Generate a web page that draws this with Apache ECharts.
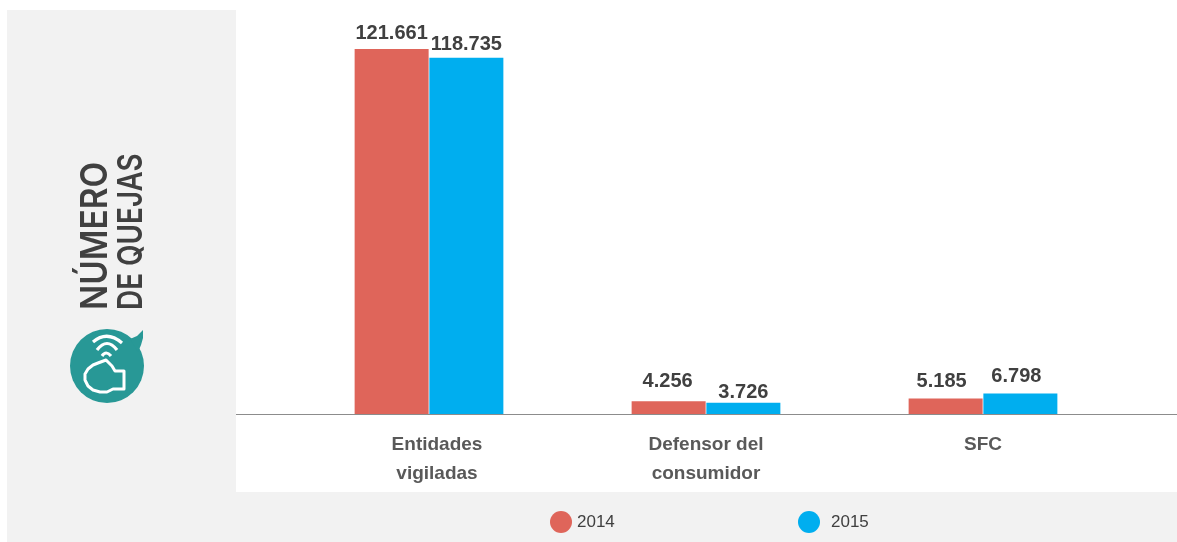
<!DOCTYPE html>
<html>
<head>
<meta charset="utf-8">
<style>html,body{margin:0;padding:0;background:#fff}#chart{width:1177px;height:542px}</style>
<script src="https://cdn.jsdelivr.net/npm/echarts@6/dist/echarts.min.js"></script>
</head>
<body>
<div id="chart"></div>
<script>
const categories = ['Entidades\nvigiladas', 'Defensor del\nconsumidor', 'SFC'];
const values2014 = [121661, 4256, 5185];
const values2015 = [118735, 3726, 6798];
const seriesNames = ['2014', '2015'];
const panelTitle = ['NÚMERO', 'DE QUEJAS'];

const RED = '#df655a';
const BLUE = '#00aeef';
const PANEL = '#f2f2f2';
const TEAL = '#289896';
const sans = '"Liberation Sans", Arial, sans-serif';

// Hand-placed value labels: [dx, dy] for each bar, per series
const labelNudge = [
  [[0, -2], [-1, -6], [-4, -3]],
  [[0, 1], [0, 4], [-4, -3]]
];

// Thousands use a dot, as in Spanish-language reports
const fmt = v => String(v).replace(/\B(?=(\d{3})+$)/g, '.');

const chart = echarts.init(document.getElementById('chart'), null, {renderer: 'canvas'});

// One signal arc of the bubble icon
const wave = (x1, y1, cx, cy, x2, y2) => ({
  type: 'bezierCurve', silent: true, z: 3,
  shape: {x1, y1, x2, y2, cpx1: cx, cpy1: cy},
  style: {fill: 'none', stroke: '#fff', lineWidth: 3.2, lineCap: 'butt'}
});

chart.setOption({
  animation: false,
  backgroundColor: '#fff',
  grid: {left: 290.5, width: 831, top: 24, height: 390},
  xAxis: {
    type: 'category',
    data: categories.map((name, i) => i === 0
      ? {value: name, textStyle: {padding: [0, 0, 0, 16]}}
      : name),
    axisTick: {show: false},
    axisLine: {show: false},
    axisLabel: {
      margin: 16, lineHeight: 29, color: '#595959',
      fontFamily: sans, fontWeight: 'bold', fontSize: 19
    }
  },
  yAxis: {type: 'value', min: 0, max: 130000, show: false},
  legend: [
    {
      data: ['2014'], left: 550, top: 511, padding: 0, icon: 'circle',
      itemWidth: 22, itemHeight: 22, itemGap: 6,
      textStyle: {color: '#404040', fontFamily: sans, fontSize: 17}
    },
    {
      data: ['2015'], left: 798, top: 511, padding: 0, icon: 'circle',
      itemWidth: 22, itemHeight: 22, itemGap: 5,
      textStyle: {color: '#404040', fontFamily: sans, fontSize: 17, padding: [0, 0, 0, 6]}
    }
  ],
  series: [values2014, values2015].map((values, i) => ({
    name: seriesNames[i],
    type: 'bar',
    data: values.map((value, j) => ({
      value,
      label: {offset: labelNudge[i][j]}
    })),
    barWidth: 74,
    barGap: '1%',
    itemStyle: {color: i === 0 ? RED : BLUE},
    label: {
      show: true, position: 'top', distance: 4,
      formatter: p => fmt(p.value),
      color: '#404040', fontFamily: sans, fontWeight: 'bold', fontSize: 20
    }
  })),
  graphic: [
    // Grey side and bottom panels
    {type: 'rect', z: -1, silent: true, shape: {x: 7, y: 10, width: 229, height: 482}, style: {fill: PANEL}},
    {type: 'rect', z: -1, silent: true, shape: {x: 7, y: 492, width: 1170, height: 50}, style: {fill: PANEL}},
    // Baseline spanning the plot area
    {type: 'rect', z: 5, silent: true, shape: {x: 236, y: 414, width: 941, height: 1}, style: {fill: '#8c8c8c'}},
    // Rotated panel title, squeezed along its reading direction
    {
      type: 'text', x: 96, y: 310, rotation: Math.PI / 2, scaleX: 0.9, silent: true,
      style: {
        text: panelTitle[0], fill: '#404040', align: 'left', verticalAlign: 'middle',
        font: '600 37px Inter, sans-serif'
      }
    },
    {
      type: 'text', x: 132, y: 310, rotation: Math.PI / 2, scaleX: 0.82, silent: true,
      style: {
        text: panelTitle[1], fill: '#404040', align: 'left', verticalAlign: 'middle',
        font: '600 34px Inter, sans-serif'
      }
    },
    // Speech-bubble icon
    {type: 'circle', silent: true, z: 2, shape: {cx: 107, cy: 366, r: 37}, style: {fill: TEAL}},
    {
      type: 'polygon', silent: true, z: 2,
      shape: {points: [[130, 339], [137, 336], [143, 330], [143, 338], [141, 345], [138, 352]]},
      style: {fill: TEAL}
    },
    wave(93, 342, 107, 330, 122, 343),
    wave(97, 350, 107, 337, 117, 350),
    wave(102, 356, 106, 350, 111, 356),
    {
      type: 'polygon', silent: true, z: 3,
      shape: {points: [
        [106, 360], [112, 366], [115, 371], [124, 371], [124, 389], [113, 389], [107, 392],
        [100, 392], [93, 390], [88, 386], [85, 380], [85, 374], [88, 369], [93, 365], [98, 363]
      ]},
      style: {fill: 'none', stroke: '#fff', lineWidth: 3, lineJoin: 'round'}
    }
  ]
});
</script>
</body>
</html>
